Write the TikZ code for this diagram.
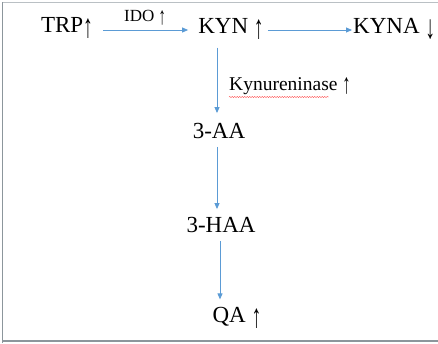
\documentclass[tikz,border=0pt]{standalone}
\usepackage{fontspec}
\setmainfont{Liberation Serif}
\usetikzlibrary{arrows.meta,decorations.pathmorphing}
\definecolor{flowblue}{HTML}{5B9BD5}
\definecolor{framegray}{HTML}{8C969C}
% tall, slender up/down arrows as set in the labels
\newcommand\uparr{\raisebox{-0.2em}{\scalebox{0.85}[1.45]{↑}}}
\newcommand\downarr{\raisebox{-0.2em}{\scalebox{0.85}[1.45]{↓}}}
\tikzset{
  main/.style={inner sep=0pt, font=\fontsize{23}{27}\selectfont},
  mid/.style={inner sep=0pt, font=\fontsize{19.5}{23}\selectfont},
  small/.style={inner sep=0pt, font=\fontsize{17}{20}\selectfont},
  flow/.style={draw=flowblue, line width=0.9pt, -{Triangle[length=6pt,width=5pt]}},
  frameline/.style={draw=framegray, line width=1pt},
}
\begin{document}
\begin{tikzpicture}[x=1pt,y=-1pt]
\useasboundingbox (0,0) rectangle (438,343);
% border
\draw[frameline, draw=framegray!60] (2,2) -- (438,2);
\draw[frameline] (2,343) -- (2,2);
\draw[frameline, line width=1.6pt] (2,341) -- (438,341);
% metabolites
\node[main] (trp) at (67,28) {TRP\uparr};
\node[small] (ido) at (145,18) {IDO \uparr};
\node[main] (kyn) at (231,29) {KYN \uparr};
\node[main, anchor=west] (kyna) at (353,29) {KYNA \downarr};
\node[mid, anchor=west] (kase) at (229,86) {Kynureninase \uparr};
\node[main] (aa) at (219,131) {3-AA};
\node[main] (haa) at (221,225) {3-HAA};
\node[main] (qa) at (237,318) {QA \uparr};
% spell-check underline
\draw[red!70, line width=0.4pt, decorate, decoration={snake, amplitude=0.6pt, segment length=2.5pt}]
  ([yshift=-2pt]kase.south west) -- ([xshift=-22pt, yshift=-2pt]kase.south east);
% pathway arrows
\draw[flow, shorten <=10pt, shorten >=10pt] (trp.east |- 0,30) -- (kyn.west |- 0,30);
\draw[flow, shorten <=4pt, shorten >=1pt] (kyn.east |- 0,30) -- (kyna.west |- 0,30);
\draw[flow, shorten <=8pt, shorten >=10pt] (kyn.south -| 217,0) -- (aa.north -| 217,0);
\draw[flow, shorten <=8pt, shorten >=8pt] (aa.south -| 217,0) -- (haa.north -| 217,0);
\draw[flow, shorten <=8pt, shorten >=8pt] (haa.south -| 220,0) -- (qa.north -| 220,0);
\end{tikzpicture}
\end{document}
